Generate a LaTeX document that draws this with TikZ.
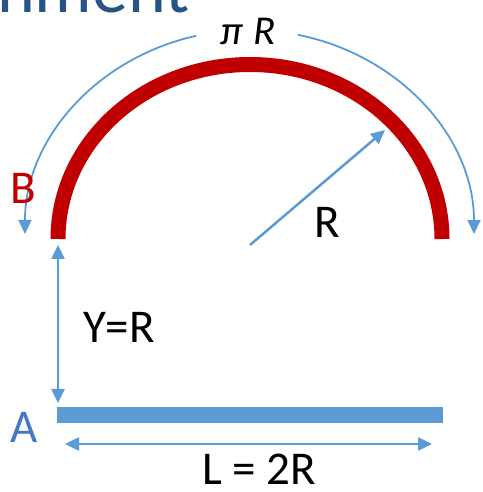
\documentclass[tikz,border=0pt]{standalone}
\usepackage{fontspec}
\setmainfont{Carlito}
\usetikzlibrary{arrows.meta}
\definecolor{accblue}{RGB}{91,155,213}
\definecolor{arcred}{RGB}{192,0,0}
\definecolor{titleblue}{RGB}{38,84,134}
\definecolor{letterblue}{RGB}{68,120,196}

\begin{document}
\begin{tikzpicture}[
  x=1pt, y=1pt,
  arr/.style={-{Triangle[length=14pt,width=13pt]}, accblue, line width=2.5pt},
  dblarr/.style={{Triangle[length=14pt,width=13pt]}-{Triangle[length=14pt,width=13pt]}, accblue, line width=2.5pt},
  thinarr/.style={-{Triangle[length=14pt,width=13pt]}, accblue, line width=1.8pt},
  lbl/.style={font=\fontsize{47}{50}\selectfont, inner sep=0pt},
  bar/.style={rectangle, fill=accblue, minimum width=386pt, minimum height=16pt, inner sep=0pt},
]
\useasboundingbox (0,0) rectangle (482,492);
\begin{scope}
  \clip (0,0) rectangle (482,492);
  \node[anchor=base west, inner sep=0pt, text=titleblue,
        font=\fontsize{72}{76}\selectfont] (title) at (-3,479) {nment};
\end{scope}

% arc length
\node[inner sep=0pt, font=\fontsize{41}{44}\selectfont\itshape, anchor=base] (piR) at (248,447) {π\hspace{10pt}R};
\draw[thinarr] (196.3,456.2) arc[start angle=103.7, end angle=180, x radius=224.5pt, y radius=204pt];
\draw[thinarr] (297.7,457.2) arc[start angle=77.6, end angle=0, x radius=224.5pt, y radius=204pt];

% half circle
\draw[arcred, line width=15pt] (442,253) arc[start angle=0, end angle=180, x radius=192pt, y radius=174.5pt];

% radius
\coordinate (ctr) at (250,247);
\coordinate (rim) at (385,362);
\draw[arr] (ctr) -- (rim);
\node[lbl] (rlbl) at (327,270) {R};

% height
\node[bar] (bar) at (250,77) {};
\coordinate (ytop) at (58,247);
\coordinate (ybot) at (58,89);
\draw[dblarr] (ytop) -- (ybot);
\node[lbl] (ylbl) at (119,165) {Y=R};

% length
\coordinate (lleft) at (65,48);
\coordinate (lright) at (432,48);
\draw[dblarr] (lleft) -- (lright);
\node[lbl] (llbl) at (259,23) {L = 2R};

\node[lbl, text=letterblue] (A) at (24.5,65) {A};
\node[lbl, text=arcred] (B) at (23,304) {B};
\end{tikzpicture}
\end{document}
